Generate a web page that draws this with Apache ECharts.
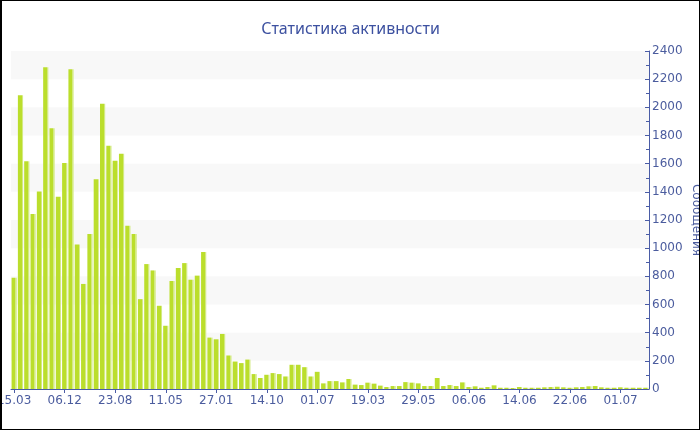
<!DOCTYPE html>
<html>
<head>
<meta charset="utf-8">
<script src="https://cdn.jsdelivr.net/npm/echarts@6/dist/echarts.min.js"></script>
<style>
html,body{margin:0;padding:0;background:#fff;}
#c{width:700px;height:430px;box-sizing:border-box;border:1px solid #000;border-left-width:2px;}
</style>
</head>
<body>
<div id="c"></div>
<script>
const titleText = 'Статистика активности';
const yAxisName = 'Сообщения';
const categories = [
 '15.03','17.04','20.05','22.06','25.07','27.08','29.09','02.11',
 '06.12','08.01','10.02','14.03','16.04','18.05','20.06','22.07',
 '23.08','24.09','27.10','28.11','31.12','01.02','06.03','07.04',
 '11.05','12.06','15.07','16.08','18.09','20.10','22.11','25.12',
 '27.01','28.02','01.04','04.05','05.06','08.07','09.08','11.09',
 '14.10','15.11','18.12','19.01','21.02','24.03','26.04','29.05',
 '01.07','02.08','04.09','06.10','08.11','10.12','11.01','13.02',
 '19.03','28.03','06.04','15.04','24.04','03.05','12.05','21.05',
 '29.05','30.05','31.05','01.06','02.06','03.06','04.06','05.06',
 '06.06','07.06','08.06','09.06','10.06','11.06','12.06','13.06',
 '14.06','15.06','16.06','17.06','18.06','19.06','20.06','21.06',
 '22.06','23.06','24.06','25.06','26.06','27.06','28.06','29.06',
 '01.07','02.07','03.07','04.07','05.07'
];
const messages = [
 790,2085,1617,1242,1402,2285,1852,1365,1605,2271,1026,746,1101,1489,2026,1727,1621,1671,1160,1101,
 638,887,842,591,449,767,859,894,776,805,972,365,353,391,238,195,184,209,106,78,
 101,113,106,89,172,172,155,89,122,40,56,56,47,71,31,28,45,38,24,14,
 21,21,49,45,40,21,21,78,21,28,21,47,14,19,9,14,26,9,9,7,
 14,9,9,9,12,14,16,12,9,12,14,19,21,12,9,9,12,9,9,9,9
];
const yMin = 0, yMax = 2400, yStep = 200;

const blue = '#4a5ca6';
const labelColor = '#4b5c9e';
const chart = echarts.init(document.getElementById('c'), null, {renderer:'canvas'});
chart.setOption({
  animation:false,
  backgroundColor:'#fff',
  title:{text:titleText,left:'center',top:15,
    textStyle:{color:'#3d51a0',fontSize:16,fontWeight:'normal',fontFamily:'Noto Sans'}},
  grid:{left:9,right:50,top:50,bottom:40,containLabel:false,outerBoundsMode:'none'},
  xAxis:{type:'category',data:categories,boundaryGap:true,
    axisLine:{lineStyle:{color:blue,width:1}},
    axisTick:{show:true,alignWithLabel:true,interval:7,length:4,lineStyle:{color:blue}},
    axisLabel:{interval:7,color:labelColor,fontSize:12,fontFamily:'DejaVu Sans',margin:6,hideOverlap:false},
    splitLine:{show:false}},
  yAxis:{type:'value',position:'right',min:yMin,max:yMax,interval:yStep,
    name:yAxisName,nameLocation:'middle',nameRotate:-90,nameGap:41,nameMoveOverlap:false,
    nameTextStyle:{color:labelColor,fontSize:12,fontFamily:'DejaVu Sans'},
    axisLine:{show:true,lineStyle:{color:blue,width:1}},
    axisTick:{show:true,inside:true,length:4,lineStyle:{color:blue}},
    minorTick:{show:true,splitNumber:2,length:3,lineStyle:{color:blue}},
    axisLabel:{color:labelColor,fontSize:12,fontFamily:'DejaVu Sans',margin:3,
      formatter:function(v){return String(v);}},
    splitLine:{show:false},
    splitArea:{show:true,areaStyle:{color:['rgba(255,255,255,0)','#f8f8f8']}}},
  series:[{type:'bar',data:messages,barCategoryGap:'18%',
    itemStyle:{color:{type:'linear',x:0,y:0,x2:1,y2:0,colorStops:[
      {offset:0,color:'#bbde2c'},{offset:0.75,color:'#bbde2c'},
      {offset:0.75,color:'#d3ea82'},{offset:1,color:'#d3ea82'}]}}}]
});
</script>
</body>
</html>
